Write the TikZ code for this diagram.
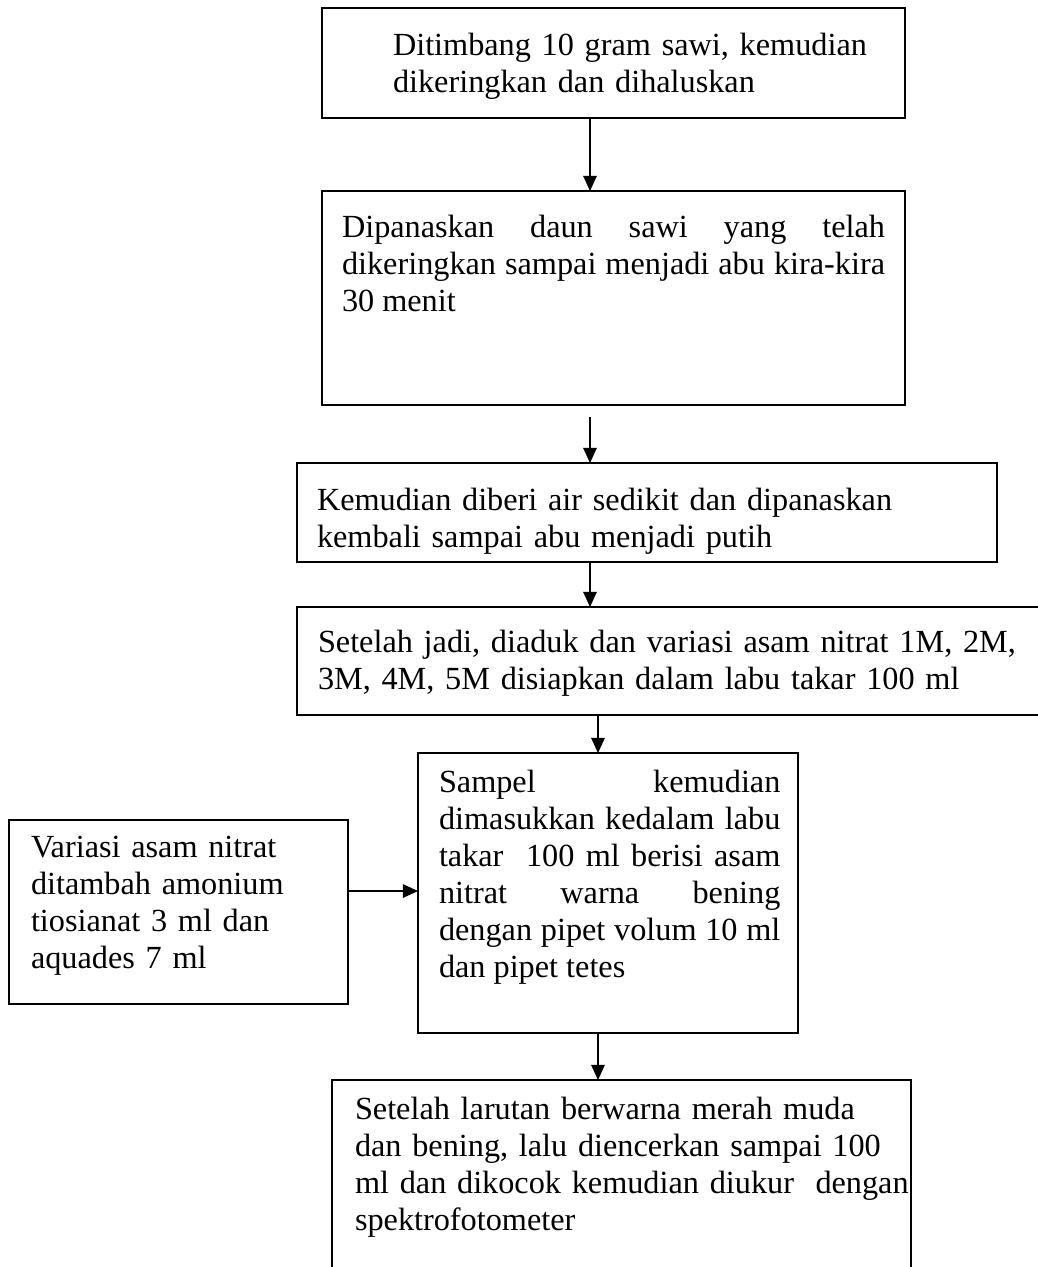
\documentclass[tikz,border=0pt]{standalone}
\usepackage{fontspec}
\setmainfont{Liberation Serif}
\usetikzlibrary{arrows.meta}
\begin{document}
\begin{tikzpicture}[x=0.372pt,y=-0.372pt,
  box/.style={draw, line width=0.55pt, inner sep=0pt, outer sep=0pt, anchor=north west},
  txt/.style={inner sep=0pt, outer sep=0pt, anchor=base west, font=\fontsize{12}{13.8}\selectfont},
  arr/.style={line width=0.5pt, -{Triangle[length=5.6pt,width=5pt]}}]
\useasboundingbox (0,0) rectangle (1038,1267);
% boxes
\node[box, minimum width=216.88pt, minimum height=40.92pt] (b1) at (322,8) {};
\node[box, minimum width=216.88pt, minimum height=79.61pt] (b2) at (322,191) {};
\node[box, minimum width=260.4pt, minimum height=36.83pt] (b3) at (297,463) {};
\node[box, minimum width=278.26pt, minimum height=40.18pt] (b4) at (297,607) {};
\node[box, minimum width=126.11pt, minimum height=68.45pt] (bv) at (9,820) {};
\node[box, minimum width=141.36pt, minimum height=104.16pt] (bs) at (418,753) {};
\node[box, minimum width=215.39pt, minimum height=78.12pt] (bb) at (332,1080) {};
% texts
\node[txt, text width=200pt, align=left] (t1) at (393,55)
  {Ditimbang 10 gram sawi, kemudian\\ dikeringkan dan dihaluskan};
\node[txt, text width=202pt, align=justify] (t2) at (342,237)
  {Dipanaskan daun sawi yang telah\linebreak dikeringkan sampai menjadi abu kira-kira\linebreak 30 menit};
\node[txt, text width=250pt, align=left] (t3) at (317,510)
  {Kemudian diberi air sedikit dan dipanaskan\\ kembali sampai abu menjadi putih};
\node[txt, text width=260pt, align=left] (t4) at (318,652)
  {Setelah jadi, diaduk dan variasi asam nitrat 1M, 2M,\\ 3M, 4M, 5M disiapkan dalam labu takar 100 ml};
\node[txt, text width=120pt, align=left] (tv) at (31,857)
  {Variasi asam nitrat\\ ditambah amonium\\ tiosianat 3 ml dan\\ aquades 7 ml};
\node[txt, text width=127pt, align=justify] (ts) at (439,792)
  {Sampel kemudian\linebreak dimasukkan kedalam labu\linebreak takar\ \ 100 ml berisi asam\linebreak nitrat warna bening\linebreak dengan pipet volum 10 ml\linebreak dan pipet tetes};
\node[txt, text width=210pt, align=left] (tb) at (355,1119)
  {Setelah larutan berwarna merah muda\\ dan bening, lalu diencerkan sampai 100\\ ml dan dikocok kemudian diukur\ \ dengan\\ spektrofotometer};
% arrow guides
\coordinate (ax) at (590,0);
\coordinate (bx) at (598,0);
\coordinate (a2s) at (590,417);
\coordinate (vy) at (0,891);
% connectors
\draw[arr] (b1.south -| ax) -- (b2.north -| ax);
\draw[arr] (a2s) -- (b3.north -| a2s);
\draw[arr] (b3.south -| ax) -- (b4.north -| ax);
\draw[arr] (b4.south -| bx) -- (bs.north -| bx);
\draw[arr] (bs.south -| bx) -- (bb.north -| bx);
\draw[arr] (bv.east |- vy) -- (bs.west |- vy);
\end{tikzpicture}
\end{document}
